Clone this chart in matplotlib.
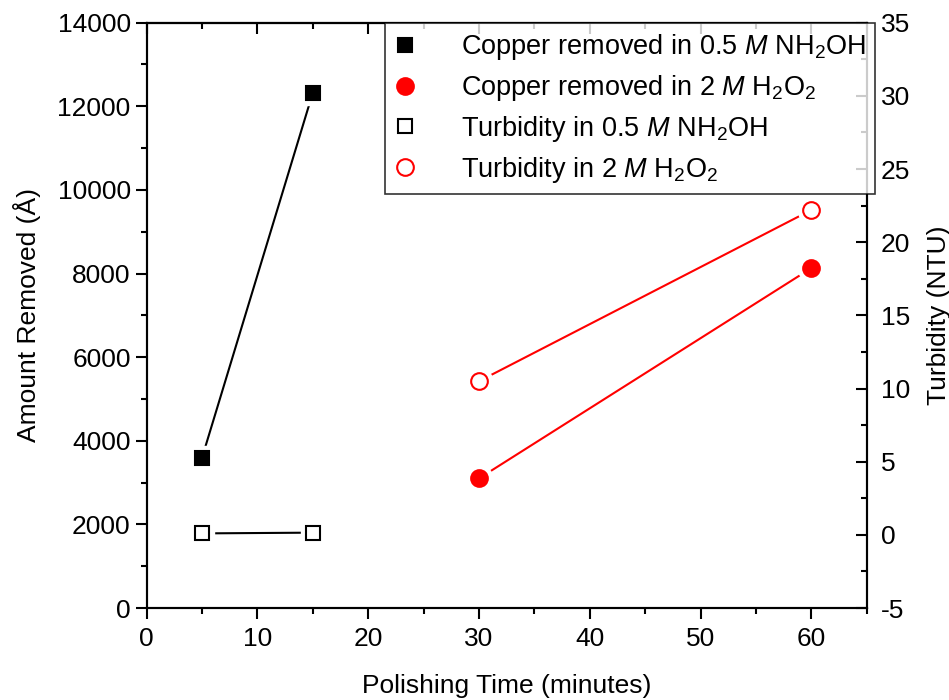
import matplotlib
matplotlib.use('Agg')
import matplotlib.pyplot as plt
from matplotlib.ticker import MultipleLocator

plt.rcParams['font.family'] = ['Liberation Sans', 'DejaVu Sans']
plt.rcParams['mathtext.fontset'] = 'custom'
plt.rcParams['mathtext.rm'] = 'Liberation Sans'
plt.rcParams['mathtext.it'] = 'Liberation Sans:italic'
plt.rcParams['axes.unicode_minus'] = False
plt.rcParams['font.size'] = 19

# polishing time (minutes)
time_nh2oh = [5, 15]
time_h2o2 = [30, 60]

# copper removed (angstrom)
copper_nh2oh = [3600, 12330]
copper_h2o2 = [3100, 8130]

# turbidity (NTU)
turb_nh2oh = [0.1, 0.15]
turb_h2o2 = [10.5, 22.2]

labels = [
    'Copper removed in 0.5 $\\it{M}$ NH$_2$OH',
    'Copper removed in 2 $\\it{M}$ H$_2$O$_2$',
    'Turbidity in 0.5 $\\it{M}$ NH$_2$OH',
    'Turbidity in 2 $\\it{M}$ H$_2$O$_2$',
]

RED = '#ff0000'
LW = 1.5
FS = 19


def draw_series(ax, x, y, color, marker, size, filled):
    # line with a small white gap around each marker
    ax.plot(x, y, color=color, lw=LW, zorder=2)
    ax.plot(x, y, ls='none', marker=marker, ms=size + 7, mfc='white',
            mec='white', zorder=3)
    h, = ax.plot(x, y, ls='none', marker=marker, ms=size,
                 mfc=color if filled else 'white', mec=color, mew=1.5,
                 zorder=4)
    return h


fig = plt.figure(figsize=(9.49, 7.0), dpi=100)
ax = fig.add_axes([0.1546, 0.1314, 0.7587, 0.8362])
ax2 = ax.twinx()

h1 = draw_series(ax, time_nh2oh, copper_nh2oh, 'black', 's', 10.5, True)
h2 = draw_series(ax, time_h2o2, copper_h2o2, RED, 'o', 12, True)
h3 = draw_series(ax2, time_nh2oh, turb_nh2oh, 'black', 's', 10.5, False)
h4 = draw_series(ax2, time_h2o2, turb_h2o2, RED, 'o', 12, False)

ax.set_xlim(0, 65)
ax.set_ylim(0, 14000)
ax2.set_ylim(-5, 35)

ax.xaxis.set_major_locator(MultipleLocator(10))
ax.xaxis.set_minor_locator(MultipleLocator(5))
ax.yaxis.set_major_locator(MultipleLocator(2000))
ax.yaxis.set_minor_locator(MultipleLocator(1000))
ax2.yaxis.set_major_locator(MultipleLocator(5))
ax2.yaxis.set_minor_locator(MultipleLocator(2.5))

for a in (ax, ax2):
    for s in a.spines.values():
        s.set_linewidth(1.5)

ax.tick_params(which='both', direction='out', width=1.5, labelsize=FS,
               top=False, right=False)
ax.tick_params(axis='x', pad=6)
ax.tick_params(which='major', length=8)
ax.tick_params(which='minor', length=4.5)
ax2.tick_params(which='both', direction='in', width=1.5, labelsize=FS,
                pad=10)
ax2.tick_params(which='major', length=8)
ax2.tick_params(which='minor', length=4.5)

# top axis with inward ticks
top = ax.secondary_xaxis('top')
top.xaxis.set_major_locator(MultipleLocator(10))
top.xaxis.set_minor_locator(MultipleLocator(5))
top.tick_params(which='both', direction='in', width=1.5, labeltop=False)
top.tick_params(which='major', length=8)
top.tick_params(which='minor', length=4.5)
top.spines['top'].set_linewidth(1.5)

ax.set_xlabel('Polishing Time (minutes)', fontsize=FS, labelpad=16)
ax.set_ylabel('Amount Removed (Å)', fontsize=FS, labelpad=12)
ax2.set_ylabel('Turbidity (NTU)', fontsize=FS, labelpad=12)

ax.set_zorder(ax2.get_zorder() + 1)
ax.patch.set_visible(False)

leg = ax.legend([h1, h2, h3, h4], labels, loc='upper left',
                bbox_to_anchor=(0.331, 1.0), fontsize=19.5, frameon=True,
                fancybox=False, edgecolor='black', borderaxespad=0,
                handlelength=0.75, handletextpad=1.7, labelspacing=0.4,
                borderpad=0.35)
leg.get_frame().set_linewidth(1.2)

fig.savefig('out.png', dpi=100)
